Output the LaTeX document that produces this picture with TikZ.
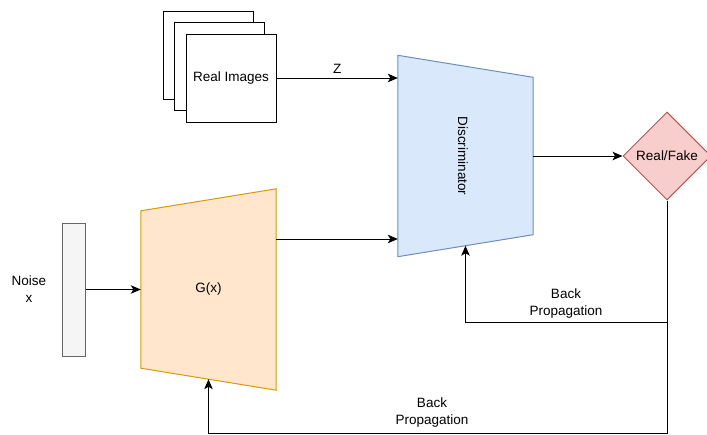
\documentclass[tikz,border=0pt]{standalone}
\usepackage{fontspec}
\setmainfont{Liberation Sans}
\usetikzlibrary{arrows.meta,positioning,calc,shapes.geometric,backgrounds}
\definecolor{discfill}{HTML}{DAE8FC}
\definecolor{discline}{HTML}{6C8EBF}
\definecolor{genfill}{HTML}{FFE6CC}
\definecolor{genline}{HTML}{D79B00}
\definecolor{decfill}{HTML}{F8CECC}
\definecolor{decline}{HTML}{B85450}
\definecolor{noisefill}{HTML}{F5F5F5}
\definecolor{noiseline}{HTML}{666666}

\begin{document}
\begin{tikzpicture}[x=1pt,y=-1pt,font=\fontsize{13.5}{17}\selectfont,
  arr/.style={-{Stealth[length=10pt,width=8.5pt,inset=2.5pt]},line width=1pt},
  imgbox/.style={draw,fill=white,line width=1pt,minimum width=90pt,
    minimum height=88pt,inner sep=0pt},
  netbox/.style={minimum width=135pt,minimum height=201pt,inner sep=0pt}]
  \useasboundingbox (0,0) rectangle (707,434);

  % stack of real images
  \foreach \i/\dx in {0/0,1/11.5,2/23}{
    \node[imgbox] (img\i) at (208+\dx,55+\dx) {};
  }
  \node at (img2.center) {Real Images};

  % discriminator and generator
  \node[netbox] (disc) at (465.5,156) {};
  \node[netbox] (gen) at (208.5,289.5) {};
  \coordinate (dbot) at ($(disc.south west)!0.5!(disc.south east)+(0,-11)$);
  \coordinate (gbot) at ($(gen.south west)!0.5!(gen.south east)+(0,-11)$);
  \begin{scope}[on background layer]
    \draw[discline,fill=discfill,line width=1pt] (disc.north west)
      -- ($(disc.north east)+(0,22)$) -- ($(disc.south east)+(0,-22)$)
      -- (disc.south west) -- cycle;
    \draw[genline,fill=genfill,line width=1pt] ($(gen.north west)+(0,22)$)
      -- (gen.north east) -- (gen.south east)
      -- ($(gen.south west)+(0,-22)$) -- cycle;
  \end{scope}
  \node[rotate=-90] (disclabel) at (463,156) {Discriminator};
  \node (genlabel) at (gen.center) {G(x)};

  \node[diamond,draw=decline,fill=decfill,line width=1pt,minimum width=88pt,
    minimum height=88pt,inner sep=0pt] (dec) at (667,156) {Real/Fake};

  \node[draw=noiseline,fill=noisefill,line width=1pt,minimum width=23pt,
    minimum height=133pt,inner sep=0pt] (noise) at (73.5,289.5) {};
  \node[align=center] (noiselabel) at (29,289) {Noise\\x};

  % connectors
  \draw[arr] (img2.east) -- (img2.east -| disc.west)
    node[midway,above=0.5pt] (zlabel) {Z};
  \coordinate (gout) at (gen.east |- 0,239);
  \draw[arr] (gout) -- (gout -| disc.west);
  \draw[arr] (noise.east) -- (noise.east -| gen.west);
  \draw[arr] (disc.east) -- (dec.west);

  \coordinate (split) at (dec.south |- 0,322);
  \coordinate (floor) at (0,433.5);
  \draw[line width=1pt] (dec.south) -- (split);
  \draw[arr] (split) -| (dbot);
  \draw[arr] (split) |- (gbot |- floor) -- (gbot);

  \node[align=center] (bplabel1) at (566,303.5) {Back\\Propagation};
  \node[align=center] (bplabel2) at (432,413) {Back\\Propagation};
\end{tikzpicture}
\end{document}
